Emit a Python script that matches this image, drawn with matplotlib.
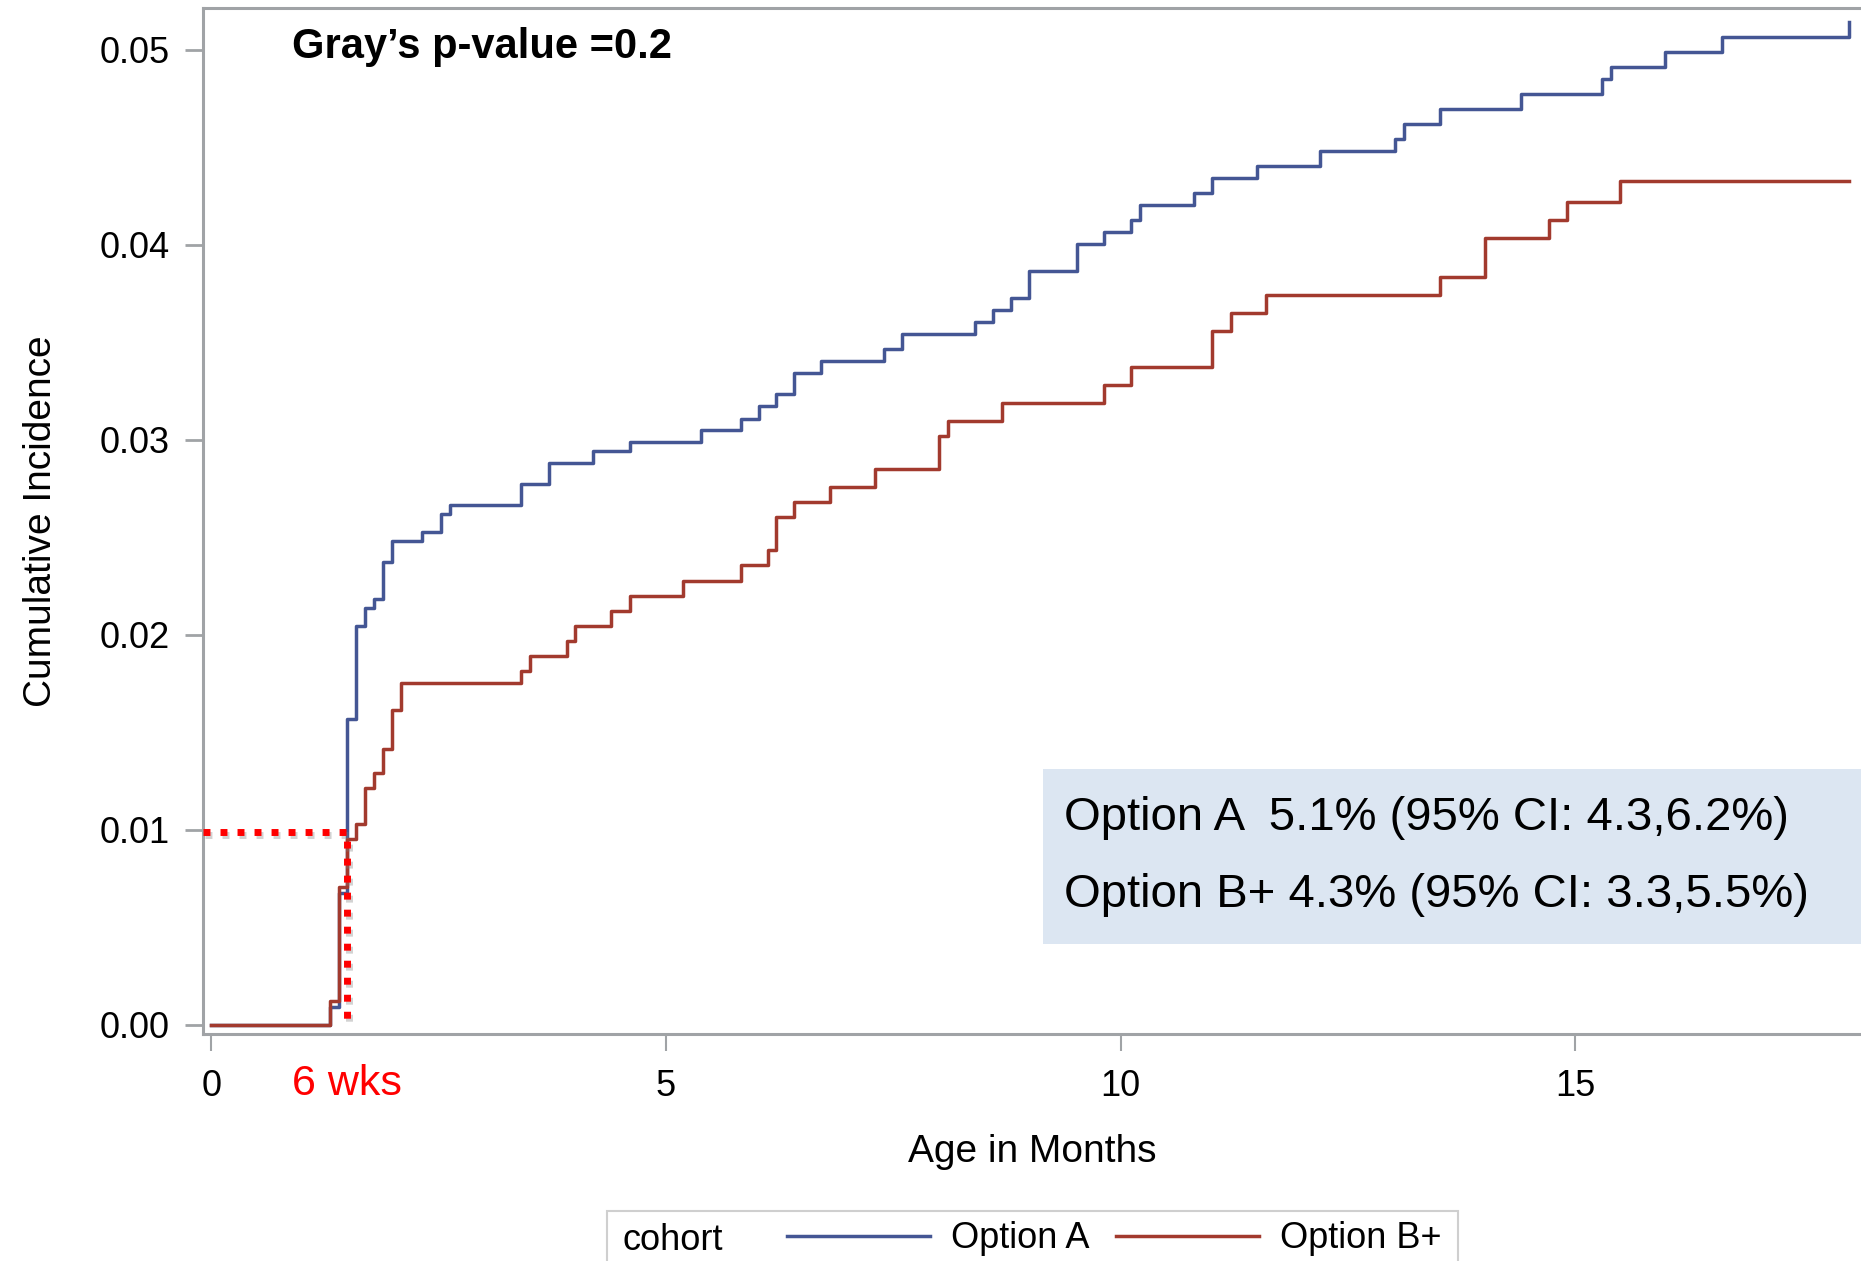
import matplotlib
matplotlib.use("Agg")
import matplotlib.pyplot as plt
import matplotlib.patheffects as pe
from matplotlib.patches import Rectangle

# ---------------- data ----------------
times_A = [0, 1.30, 1.40, 1.49, 1.59, 1.69, 1.79, 1.89, 1.99, 2.32, 2.52, 2.62,
           3.40, 3.71, 4.20, 4.60, 5.39, 5.82, 6.02, 6.21, 6.41, 6.71, 7.40, 7.60,
           8.40, 8.60, 8.80, 8.99, 9.52, 9.82, 10.12, 10.21, 10.81, 11.01, 11.50,
           12.20, 13.02, 13.12, 13.52, 14.41, 15.30, 15.40, 15.99, 16.62, 18.01]
cif_A = [0, 0.00092, 0.00677, 0.01570, 0.02046, 0.02140, 0.02185, 0.02374, 0.02480,
         0.02528, 0.02620, 0.02667, 0.02774, 0.02882, 0.02944, 0.02990, 0.03050,
         0.03110, 0.03174, 0.03236, 0.03342, 0.03404, 0.03465, 0.03542, 0.03603,
         0.03665, 0.03727, 0.03867, 0.04005, 0.04065, 0.04128, 0.04203, 0.04265,
         0.04342, 0.04403, 0.04480, 0.04542, 0.04619, 0.04696, 0.04773, 0.04850,
         0.04911, 0.04988, 0.05065, 0.05144]

times_B = [0, 1.30, 1.40, 1.49, 1.59, 1.69, 1.79, 1.89, 1.99, 2.09, 3.40, 3.50,
           3.91, 4.00, 4.40, 4.60, 5.19, 5.82, 6.12, 6.21, 6.41, 6.80, 7.30, 8.00,
           8.10, 8.70, 9.82, 10.12, 11.01, 11.21, 11.60, 13.52, 14.01, 14.71, 14.91,
           15.50, 18.01]
cif_B = [0, 0.00123, 0.00709, 0.00952, 0.01029, 0.01214, 0.01292, 0.01414, 0.01615,
         0.01752, 0.01815, 0.01892, 0.01969, 0.02046, 0.02123, 0.02200, 0.02277,
         0.02359, 0.02436, 0.02605, 0.02680, 0.02757, 0.02850, 0.03020, 0.03096,
         0.03188, 0.03282, 0.03373, 0.03557, 0.03650, 0.03742, 0.03834, 0.04034,
         0.04128, 0.04221, 0.04326, 0.04326]

series_labels = ["Option A", "Option B+"]
legend_title = "cohort"
x_ticks = [0, 5, 10, 15]
y_ticks = [0.00, 0.01, 0.02, 0.03, 0.04, 0.05]
ref_x = 1.49      # 6 weeks marker
ref_y = 0.0099
p_text = "Gray\u2019s p-value =0.2"
box_lines = ["Option A  5.1% (95% CI: 4.3,6.2%)",
             "Option B+ 4.3% (95% CI: 3.3,5.5%)"]

# ---------------- style ----------------
plt.rcParams['font.family'] = ['Liberation Sans', 'DejaVu Sans']
COL_A = "#445694"
COL_B = "#A23A2E"
GRID = "#a0a3a6"

W, H = 1861, 1261
fig = plt.figure(figsize=(W / 100, H / 100), dpi=100)
ax = fig.add_axes([203 / W, (H - 1034) / H, (W - 203) / W, 1026 / H])

lineA, = ax.step(times_A, cif_A, where='post', color=COL_A, lw=2.5, zorder=3)
lineB, = ax.step(times_B, cif_B, where='post', color=COL_B, lw=2.5, zorder=3)

ax.set_xlim(-0.0935, 18.146)
ax.set_ylim(-0.000462, 0.05215)

ax.set_xticks(x_ticks)
ax.set_xticklabels([str(t) for t in x_ticks])
ax.set_yticks(y_ticks)
ax.set_yticklabels([f"{v:.2f}" for v in y_ticks])

for s in ['left', 'bottom', 'top']:
    ax.spines[s].set_color(GRID)
    ax.spines[s].set_linewidth(2.2)
ax.spines['right'].set_visible(False)

ax.tick_params(axis='y', length=13, width=2, color=GRID, pad=11, labelsize=26)
ax.tick_params(axis='x', length=12, width=1.5, color=GRID, pad=13, labelsize=26)

ax.set_xlabel("Age in Months", fontsize=28)
ax.xaxis.set_label_coords(0.5, -0.097)
ax.xaxis.label.set_va('top')
ax.set_ylabel("Cumulative Incidence", fontsize=28)
ax.yaxis.set_label_coords(-0.087, 0.5)

# red dotted reference lines (6 weeks)
ax.plot([ax.get_xlim()[0], ref_x, ref_x], [ref_y, ref_y, 0.0],
        color="#ff0000", lw=5, dashes=(1.0, 1.45), dash_capstyle='butt',
        zorder=5, clip_on=False,
        path_effects=[pe.SimpleLineShadow(offset=(1.5, -2.5), shadow_color='gray', alpha=0.35),
                      pe.Normal()])

ax.text(ref_x, -0.0487, "6 wks", transform=ax.get_xaxis_transform(),
        color="#ff0000", fontsize=31, ha='center', va='center')

ax.text(0.0537, 0.9513, p_text, transform=ax.transAxes, fontsize=30,
        fontweight='bold', ha='left', va='baseline')

ax.add_patch(Rectangle((0.5066, 0.0877), 0.5, 0.1706, transform=ax.transAxes,
                       facecolor="#DCE6F2", edgecolor='none', zorder=4))
ax.text(0.5193, 0.1988, box_lines[0], transform=ax.transAxes, fontsize=34,
        ha='left', va='baseline', zorder=6)
ax.text(0.5193, 0.1241, box_lines[1], transform=ax.transAxes, fontsize=34,
        ha='left', va='baseline', zorder=6)

# legend at bottom
fig.patches.append(Rectangle((607 / W, -0.02), (1458 - 607) / W, 0.02 + (H - 1211) / H,
                             transform=fig.transFigure, facecolor='white',
                             edgecolor="#cfcfcf", lw=1.5, figure=fig))
fig.text(623 / W, (H - 1250) / H, legend_title, fontsize=26, ha='left', va='baseline')
fig.legend(handles=[lineA, lineB], labels=series_labels, ncol=2, frameon=False,
           loc='center left', bbox_to_anchor=(787 / W, (H - 1239) / H),
           fontsize=26, handlelength=3.95, handletextpad=0.58, columnspacing=0.75,
           borderpad=0, borderaxespad=0)

fig.savefig("out.png", dpi=100)
